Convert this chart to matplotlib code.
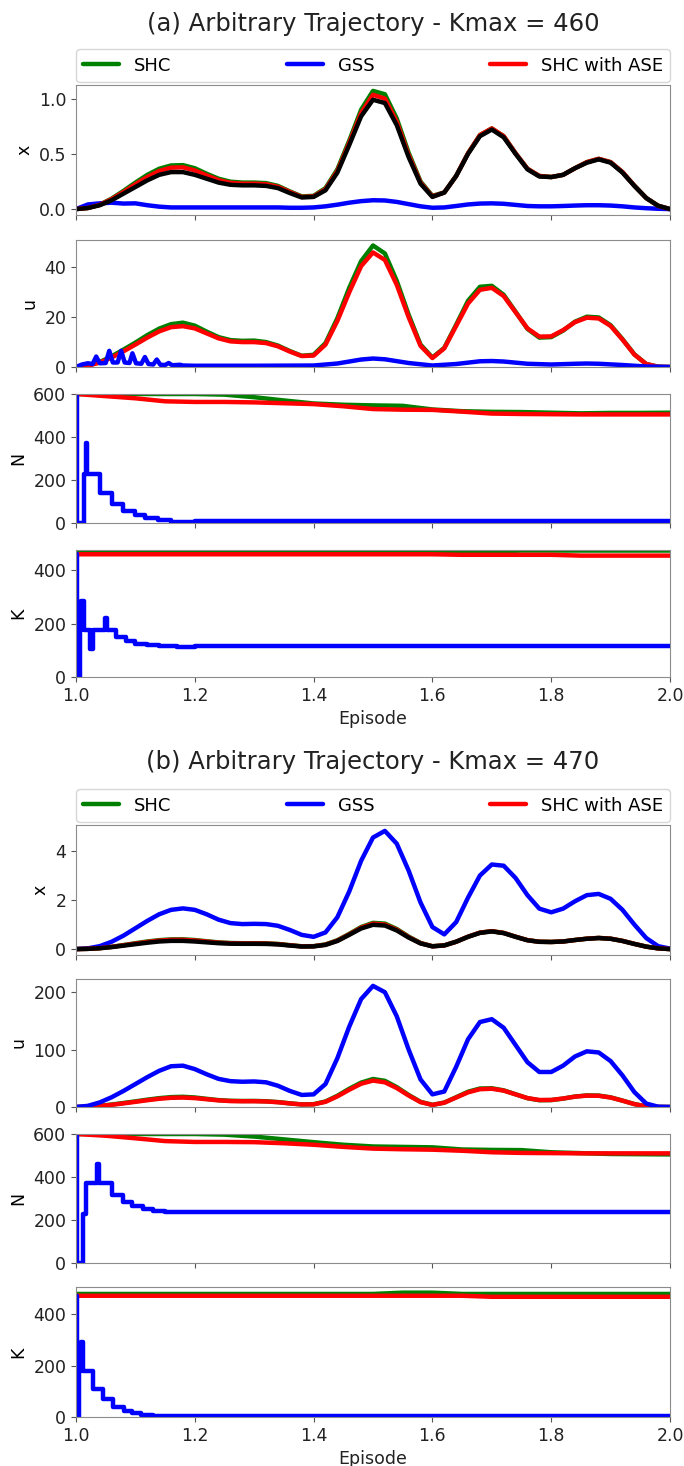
import numpy as np
import matplotlib.pyplot as plt

plt.rcParams['font.family'] = ['DejaVu Sans']
plt.rcParams['font.size'] = 12.5
plt.rcParams['lines.solid_joinstyle'] = 'round'
plt.rcParams['lines.solid_capstyle'] = 'round'

# episode grids (0.02 step for the trajectories, 0.05 step for N and K)
ep = np.linspace(1.0, 2.0, 51)
ep_slow = np.linspace(1.0, 2.0, 21)

# ---- reference trajectory (black) ----
x_ref = [0.000, 0.010, 0.035, 0.080, 0.140, 0.200, 0.260, 0.310, 0.335, 0.335,
         0.310, 0.275, 0.240, 0.220, 0.215, 0.215, 0.210, 0.190, 0.145, 0.105,
         0.110, 0.170, 0.330, 0.580, 0.840, 0.990, 0.960, 0.760, 0.470, 0.230,
         0.110, 0.150, 0.300, 0.500, 0.660, 0.720, 0.650, 0.500, 0.360, 0.295,
         0.290, 0.310, 0.370, 0.420, 0.450, 0.420, 0.330, 0.210, 0.100, 0.030,
         0.000]

# ---- panel (a), Kmax = 460 ----
x_shc_a = [0.000, 0.010, 0.040, 0.095, 0.165, 0.240, 0.310, 0.365, 0.395, 0.398,
           0.370, 0.320, 0.275, 0.248, 0.240, 0.240, 0.235, 0.210, 0.160, 0.115,
           0.120, 0.190, 0.360, 0.620, 0.900, 1.070, 1.040, 0.820, 0.510, 0.250,
           0.120, 0.150, 0.300, 0.505, 0.670, 0.730, 0.660, 0.505, 0.365, 0.300,
           0.290, 0.310, 0.370, 0.425, 0.455, 0.425, 0.335, 0.212, 0.100, 0.030,
           0.000]
x_ase_a = [0.000, 0.010, 0.038, 0.090, 0.155, 0.225, 0.290, 0.345, 0.375, 0.378,
           0.350, 0.305, 0.262, 0.238, 0.230, 0.230, 0.225, 0.202, 0.155, 0.110,
           0.115, 0.180, 0.345, 0.600, 0.870, 1.035, 1.000, 0.790, 0.490, 0.240,
           0.115, 0.150, 0.300, 0.505, 0.670, 0.730, 0.660, 0.505, 0.365, 0.300,
           0.290, 0.310, 0.370, 0.425, 0.455, 0.425, 0.335, 0.212, 0.100, 0.030,
           0.000]
x_gss_a = [0.000, 0.042, 0.052, 0.058, 0.050, 0.052, 0.035, 0.022, 0.015, 0.015,
           0.015, 0.015, 0.015, 0.015, 0.015, 0.015, 0.015, 0.015, 0.012, 0.012,
           0.015, 0.025, 0.040, 0.058, 0.072, 0.080, 0.078, 0.065, 0.045, 0.025,
           0.012, 0.015, 0.028, 0.042, 0.050, 0.052, 0.048, 0.038, 0.028, 0.025,
           0.025, 0.028, 0.032, 0.035, 0.035, 0.032, 0.025, 0.015, 0.008, 0.003,
           0.000]

u_shc_a = [0.0, 0.6, 2.0, 4.3, 7.0, 9.8, 12.8, 15.4, 17.2, 17.8,
           16.6, 14.2, 12.0, 10.8, 10.5, 10.6, 10.0, 8.6, 6.4, 4.5,
           4.9, 9.6, 19.6, 31.8, 42.5, 48.8, 45.6, 34.6, 21.0, 9.0,
           3.8, 7.7, 17.0, 26.6, 32.2, 32.6, 29.0, 22.2, 15.3, 11.8,
           12.0, 14.6, 18.2, 20.2, 19.9, 16.8, 11.2, 5.1, 1.2, 0.1,
           0.0]
u_ase_a = [0.0, 0.5, 1.8, 3.8, 6.3, 9.0, 11.8, 14.3, 16.0, 16.4,
           15.5, 13.5, 11.5, 10.3, 10.0, 10.0, 9.6, 8.3, 6.2, 4.4,
           4.6, 9.0, 18.5, 30.0, 40.5, 46.0, 43.0, 33.0, 20.0, 8.5,
           3.6, 7.5, 16.5, 25.5, 31.0, 31.8, 28.5, 22.0, 15.5, 12.2,
           12.3, 14.8, 18.0, 19.8, 19.5, 16.5, 11.0, 5.0, 1.2, 0.1,
           0.0]
u_gss_a_ep = [1.000, 1.010, 1.020, 1.028, 1.034, 1.040, 1.050, 1.056, 1.062, 1.070,
              1.076, 1.082, 1.090, 1.095, 1.101, 1.110, 1.116, 1.122, 1.130, 1.136,
              1.142, 1.150, 1.156, 1.162, 1.175, 1.180, 1.20, 1.30, 1.40, 1.44,
              1.48, 1.50, 1.52, 1.56, 1.60, 1.64, 1.68, 1.70, 1.72, 1.76,
              1.80, 1.84, 1.86, 1.88, 1.92, 1.96, 2.00]
u_gss_a = [0.0, 1.0, 1.5, 1.2, 4.2, 1.5, 1.6, 6.5, 1.8, 1.8,
           6.5, 1.8, 1.6, 5.5, 1.5, 1.3, 4.0, 1.2, 1.0, 3.0,
           0.9, 0.8, 1.6, 0.7, 0.9, 0.6, 0.5, 0.5, 0.6, 1.4,
           3.0, 3.4, 3.1, 1.6, 0.6, 1.2, 2.3, 2.4, 2.2, 1.3,
           1.0, 1.3, 1.4, 1.3, 0.8, 0.2, 0.0]

N_shc_a = [600, 600, 600, 600, 600, 597, 585, 570, 556, 550, 547,
           545, 528, 520, 517, 516, 513, 510, 512, 512, 513]
N_ase_a = [600, 590, 580, 566, 563, 563, 561, 557, 553, 543, 530,
           527, 526, 518, 509, 507, 506, 505, 505, 505, 505]
N_gss_a_ep = [1.0, 1.001, 1.013, 1.016, 1.019, 1.041, 1.061, 1.079, 1.10, 1.116, 1.138, 1.16, 1.20, 2.0]
N_gss_a = [600, 0, 230, 370, 230, 140, 88, 55, 35, 22, 12, 5, 10, 10]

K_shc_a = [467, 467, 467, 467, 467, 467, 467, 467, 467, 467, 467,
           467, 467, 467, 469, 473, 473, 473, 473, 473, 473]
K_ase_a = [459, 459, 459, 459, 459, 459, 459, 459, 459, 459, 459,
           459, 459, 457, 457, 457, 457, 454, 454, 454, 454]
K_gss_a_ep = [1.0, 1.001, 1.006, 1.009, 1.013, 1.024, 1.028, 1.048, 1.052,
              1.068, 1.085, 1.10, 1.12, 1.14, 1.17, 1.20, 2.0]
K_gss_a = [460, 0, 175, 285, 175, 105, 175, 220, 175, 148, 135, 125, 120, 115, 112, 116, 116]

# ---- panel (b), Kmax = 470 ----
x_gss_b = [0.000, 0.030, 0.120, 0.300, 0.550, 0.850, 1.150, 1.420, 1.600, 1.660,
           1.600, 1.420, 1.200, 1.060, 1.020, 1.030, 1.020, 0.950, 0.780, 0.580,
           0.500, 0.680, 1.300, 2.350, 3.600, 4.550, 4.820, 4.300, 3.200, 1.900,
           0.900, 0.600, 1.100, 2.100, 3.000, 3.450, 3.400, 2.900, 2.200, 1.650,
           1.500, 1.650, 1.950, 2.200, 2.250, 2.050, 1.600, 1.000, 0.450, 0.120,
           0.020]
x_shc_b = x_shc_a
x_ase_b = x_ase_a

u_gss_b = [0, 2, 8, 17, 28, 40, 52, 63, 71, 72,
           66, 57, 49, 45, 44, 44.5, 43, 37, 28, 21,
           22, 40, 85, 140, 188, 211, 200, 158, 100, 48,
           22, 27, 70, 118, 148, 153, 138, 108, 78, 61,
           61, 72, 88, 97, 95, 80, 55, 26, 6, 0.5,
           0]
u_shc_b = u_shc_a
u_ase_b = u_ase_a

N_shc_b = [600, 600, 600, 600, 600, 597, 588, 575, 562, 550, 542,
           540, 538, 528, 526, 525, 515, 511, 507, 506, 505]
N_ase_b = [600, 592, 580, 567, 563, 563, 562, 557, 550, 540, 532,
           529, 527, 522, 515, 512, 511, 510, 510, 510, 510]
N_gss_b_ep = [1.0, 1.001, 1.012, 1.016, 1.035, 1.039, 1.061, 1.079, 1.094, 1.112, 1.13, 1.15, 1.19, 2.0]
N_gss_b = [600, 0, 230, 370, 460, 370, 315, 285, 265, 250, 243, 237, 235, 237]

K_shc_b = [478, 478, 478, 478, 478, 478, 478, 478, 478, 478, 478,
           483, 483, 478, 478, 478, 478, 478, 478, 478, 478]
K_ase_b = [471, 471, 471, 471, 471, 471, 471, 471, 471, 471, 471,
           471, 471, 471, 467, 467, 467, 467, 467, 467, 467]
K_gss_b_ep = [1.0, 1.001, 1.005, 1.008, 1.012, 1.028, 1.046, 1.063, 1.08, 1.095, 1.11, 1.13, 1.17, 2.0]
K_gss_b = [470, 0, 180, 290, 180, 110, 70, 40, 25, 15, 8, 4, 3, 3]

W, H = 684, 1466
fig = plt.figure(figsize=(W / 100, H / 100), dpi=100)
LEFT, RIGHT = 76, 670
LW = 3.2


def add_ax(top, bottom):
    return fig.add_axes([LEFT / W, 1 - bottom / H, (RIGHT - LEFT) / W, (bottom - top) / H])


def style(ax, yticks, last):
    ax.set_xlim(1.0, 2.0)
    ax.set_xticks([1.0, 1.2, 1.4, 1.6, 1.8, 2.0])
    ax.set_yticks(yticks)
    for s in ax.spines.values():
        s.set_color('#8c8c8c')
    ax.tick_params(colors='#555555', labelcolor='#222222', labelsize=12.5)
    if last:
        ax.set_xlabel('Episode', fontsize=12.5, color='#222222')
    else:
        ax.tick_params(labelbottom=False)


def panel(rows, title_y, title, d):
    ax_x, ax_u, ax_n, ax_k = [add_ax(t, b) for t, b in rows]

    l1, = ax_x.plot(ep, d['x_shc'], color='green', lw=LW, label='SHC')
    l2, = ax_x.plot(ep, d['x_gss'], color='blue', lw=LW, label='GSS')
    l3, = ax_x.plot(ep, d['x_ase'], color='red', lw=LW, label='SHC with ASE')
    ax_x.plot(ep, x_ref, color='black', lw=LW)
    ax_x.set_ylabel('x')
    style(ax_x, d['x_ticks'], False)
    ax_x.legend(handles=[l1, l2, l3], bbox_to_anchor=(0, 1.025, 1, 0.2), loc='lower left',
                mode='expand', ncol=3, borderaxespad=0, fontsize=13)

    ax_u.plot(ep, d['u_shc'], color='green', lw=LW)
    ax_u.plot(ep, d['u_ase'], color='red', lw=LW)
    ax_u.plot(d['u_gss_ep'], d['u_gss'], color='blue', lw=LW)
    ax_u.set_ylim(0, d['u_top'])
    ax_u.set_ylabel('u')
    style(ax_u, d['u_ticks'], False)

    ax_n.plot(ep_slow, d['N_shc'], color='green', lw=LW)
    ax_n.plot(ep_slow, d['N_ase'], color='red', lw=LW)
    ax_n.plot(d['N_gss_ep'], d['N_gss'], color='blue', lw=LW, drawstyle='steps-post')
    ax_n.set_ylim(0, 600)
    ax_n.set_ylabel('N')
    style(ax_n, [0, 200, 400, 600], False)

    ax_k.plot(ep_slow, d['K_shc'], color='green', lw=LW)
    ax_k.plot(ep_slow, d['K_ase'], color='red', lw=LW)
    ax_k.plot(d['K_gss_ep'], d['K_gss'], color='blue', lw=LW, drawstyle='steps-post')
    ax_k.set_ylim(0, d['K_top'])
    ax_k.set_ylabel('K')
    style(ax_k, [0, 200, 400], True)

    fig.text((LEFT + RIGHT) / 2 / W, 1 - title_y / H, title, ha='center', va='center',
             fontsize=17.5, color='#222222')


panel([(85, 215), (240, 367), (394, 523), (550, 677)], 24,
      '(a) Arbitrary Trajectory - Kmax = 460',
      dict(x_shc=x_shc_a, x_ase=x_ase_a, x_gss=x_gss_a, x_ticks=[0.0, 0.5, 1.0],
           u_shc=u_shc_a, u_ase=u_ase_a, u_gss_ep=u_gss_a_ep, u_gss=u_gss_a,
           u_top=51, u_ticks=[0, 20, 40],
           N_shc=N_shc_a, N_ase=N_ase_a, N_gss_ep=N_gss_a_ep, N_gss=N_gss_a,
           K_shc=K_shc_a, K_ase=K_ase_a, K_gss_ep=K_gss_a_ep, K_gss=K_gss_a, K_top=475))

panel([(825, 955), (979, 1107), (1134, 1263), (1287, 1417)], 762,
      '(b) Arbitrary Trajectory - Kmax = 470',
      dict(x_shc=x_shc_b, x_ase=x_ase_b, x_gss=x_gss_b, x_ticks=[0, 2, 4],
           u_shc=u_shc_b, u_ase=u_ase_b, u_gss_ep=ep, u_gss=u_gss_b,
           u_top=223, u_ticks=[0, 100, 200],
           N_shc=N_shc_b, N_ase=N_ase_b, N_gss_ep=N_gss_b_ep, N_gss=N_gss_b,
           K_shc=K_shc_b, K_ase=K_ase_b, K_gss_ep=K_gss_b_ep, K_gss=K_gss_b, K_top=505))

fig.savefig('out.png', dpi=100)
